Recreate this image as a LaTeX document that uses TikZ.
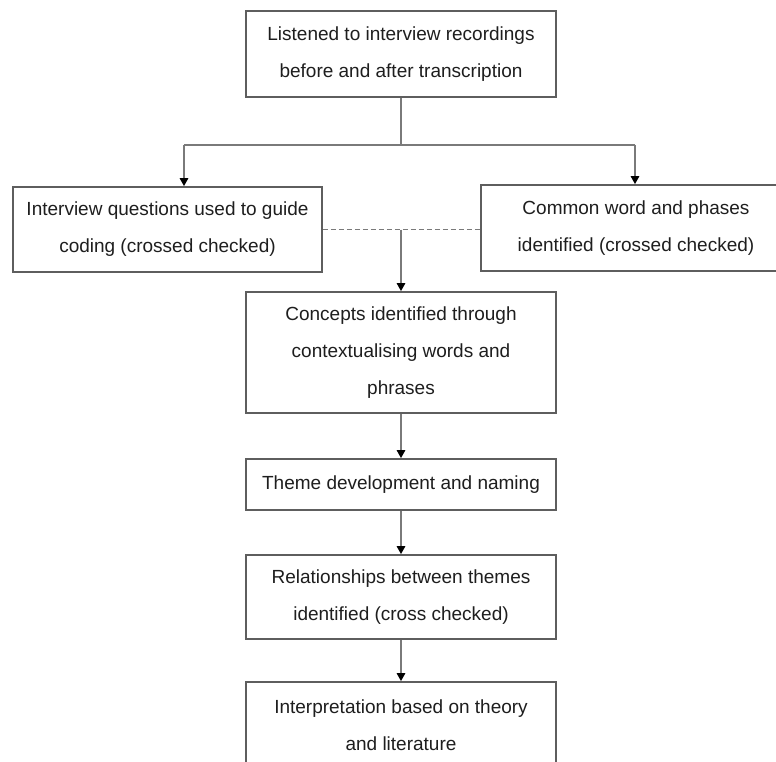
\documentclass[tikz,border=0pt]{standalone}
\usepackage{fontspec}
\setmainfont{Liberation Sans}
\usetikzlibrary{arrows.meta}
\definecolor{boxline}{HTML}{5E5E5E}
\definecolor{conn}{HTML}{7A7A7A}
\definecolor{txt}{HTML}{1E1E1E}
\begin{document}
\begin{tikzpicture}[x=1pt,y=-1pt,
  stepbox/.style={draw=boxline,line width=1.8pt,rectangle,inner sep=0pt,
    minimum width=310pt,align=center,text=txt,
    font=\fontsize{19}{37}\selectfont},
  conline/.style={draw=conn,line width=1.5pt},
  arr/.style={conline,-{Triangle[length=8pt,width=8.5pt,color=black]}},
  dashline/.style={draw=conn,line width=1.5pt,dash pattern=on 5pt off 3pt}]
\clip (0,0) rectangle (776,762);
\fill[white] (0,0) rectangle (776,762);

\node[stepbox,minimum height=86pt] (top) at (401,54)
  {Listened to interview recordings\\before and after transcription};
\node[stepbox,minimum width=309pt,minimum height=85pt] (left) at (167.5,229.5)
  {Interview questions used to guide\\coding (crossed checked)};
\node[stepbox,minimum height=86pt] (right) at (636,228)
  {Common word and phases\\identified (crossed checked)};
\node[stepbox,minimum height=121pt] (concept) at (401,352.5)
  {Concepts identified through\\contextualising words and\\phrases};
\node[stepbox,minimum height=51pt] (theme) at (401,484.5)
  {Theme development and naming};
\node[stepbox,minimum height=84pt] (rel) at (401,597)
  {Relationships between themes\\identified (cross checked)};
\node[stepbox,minimum height=86pt] (interp) at (401,725)
  {Interpretation based on theory\\and literature};

\coordinate (split) at (401,145);
\coordinate (jl) at (184,145);
\coordinate (jr) at (635,145);
\draw[conline] (top.south) -- (split);
\draw[conline] (jl) -- (jr);
\draw[arr] (jl) -- (jl |- left.north);
\draw[arr] (jr) -- (jr |- right.north);

\coordinate (dl) at (left.east);
\coordinate (dj) at (dl -| top.south);
\draw[dashline] (dl) -- (dl -| right.west);
\draw[arr] (dj) -- (concept.north);

\draw[arr] (concept.south) -- (theme.north);
\draw[arr] (theme.south) -- (rel.north);
\draw[arr] (rel.south) -- (interp.north);
\end{tikzpicture}
\end{document}
